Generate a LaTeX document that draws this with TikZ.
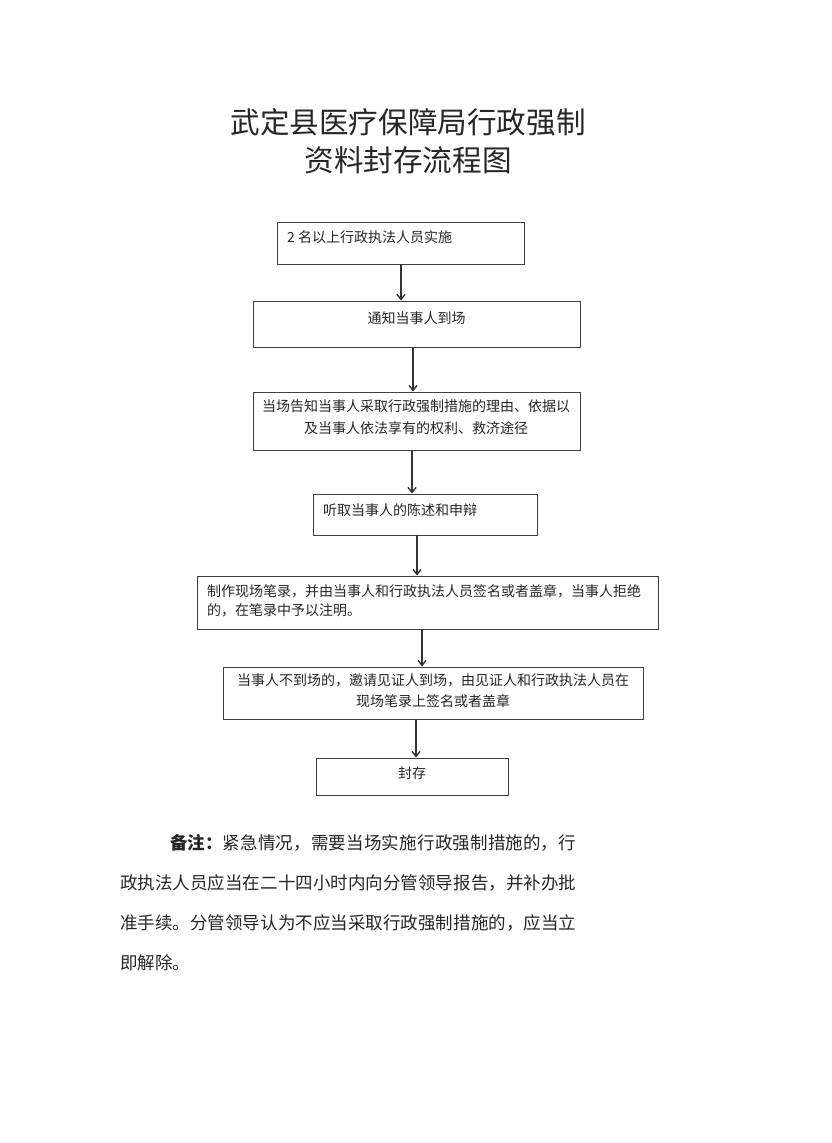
\documentclass[tikz,border=0pt]{standalone}
\usepackage{fontspec}
\setmainfont{Noto Sans CJK SC}
\usetikzlibrary{positioning, calc, arrows.meta}
\XeTeXlinebreaklocale "zh"
\XeTeXlinebreakskip=0pt plus 1pt minus 0.1pt

\tikzset{
  box/.style={draw=black!75, line width=0.9pt, rectangle, inner sep=0pt},
  flow/.style={draw=black!80, line width=1.4pt, -{Straight Barb[length=5pt,width=8pt]}},
  txt/.style={inner sep=0pt, text=black!85, font=\fontsize{14}{21.5}\selectfont},
}

\begin{document}
\begin{tikzpicture}[x=1pt, y=-1pt]
      \fill[white] (0,0) rectangle (831,1143);
      \useasboundingbox (0,0) rectangle (831,1143);

      % title
      \node[inner sep=0pt, text=black!85, align=center, font=\fontsize{29.6}{38.4}\selectfont] (title) at (408,141) {武定县医疗保障局行政强制\\资料封存流程图};

      % boxes
      \node[box, minimum width=247pt, minimum height=42pt] (b1) at (400.5,243)   {};
      \node[box, minimum width=327pt, minimum height=46pt] (b2) at (416.5,324)   {};
      \node[box, minimum width=327pt, minimum height=58pt] (b3) at (416.5,421)   {};
      \node[box, minimum width=224pt, minimum height=41pt] (b4) at (425,514.5)   {};
      \node[box, minimum width=461pt, minimum height=53pt] (b5) at (427.5,602.5) {};
      \node[box, minimum width=420pt, minimum height=52pt] (b6) at (433,693)     {};
      \node[box, minimum width=192pt, minimum height=37pt] (b7) at (412,776.5)   {};

      % box texts
      \node[txt, anchor=west] (t1) at (287,237) {2 名以上行政执法人员实施};
      \node[txt] (t2) at (416.5,318) {通知当事人到场};
      \node[txt, align=center] (t3) at (416,417.3) {当场告知当事人采取行政强制措施的理由、依据以\\及当事人依法享有的权利、救济途径};
      \node[txt, anchor=west] (t4) at (323,510) {听取当事人的陈述和申辩};
      \node[txt, anchor=west, align=left, font=\fontsize{14}{18.5}\selectfont] (t5) at (207,601) {制作现场笔录，并由当事人和行政执法人员签名或者盖章，当事人拒绝\\的，在笔录中予以注明。};
      \node[txt, align=center] (t6) at (433,690.8) {当事人不到场的，邀请见证人到场，由见证人和行政执法人员在\\现场笔录上签名或者盖章};
      \node[txt] (t7) at (412,773) {封存};

      % arrows
      \draw[flow] (b1.south -| 401,0) -- (b2.north -| 401,0);
      \draw[flow] (b2.south -| 413,0) -- (b3.north -| 413,0);
      \draw[flow] (b3.south -| 412,0) -- (b4.north -| 412,0);
      \draw[flow] (b4.south -| 417,0) -- (b5.north -| 417,0);
      \draw[flow] (b5.south -| 422,0) -- (b6.north -| 422,0);
      \draw[flow] (b6.south -| 416,0) -- (b7.north -| 416,0);

      % note
      \node[anchor=north west, inner sep=0pt, text=black!85, text width=456pt, align=justify, font=\fontsize{17.5}{40}\selectfont] (note) at (120,834) {\hspace*{50pt}\textbf{备注：}紧急情况，需要当场实施行政强制措施的，行\linebreak 政执法人员应当在二十四小时内向分管领导报告，并补办批\linebreak 准手续。分管领导认为不应当采取行政强制措施的，应当立\linebreak 即解除。};
    \end{tikzpicture}
\end{document}
